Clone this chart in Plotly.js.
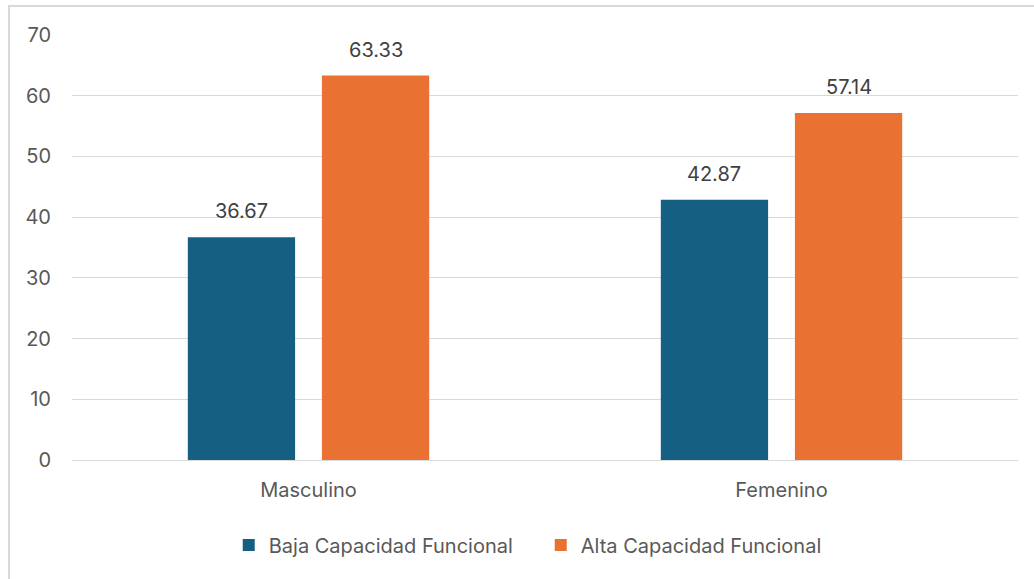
<!DOCTYPE html>
<html>
<head>
<meta charset="utf-8">
<script src="https://cdn.plot.ly/plotly-3.0.1.min.js"></script>
<style>
  html, body { margin: 0; padding: 0; background: #fff; overflow: hidden; }
  #chart { position: absolute; left: 0; top: 0; width: 1034px; height: 579px; }
  #frame { position: absolute; left: 8px; top: 5px; width: 1100px; height: 700px;
           border: 2px solid #d9d9d9; pointer-events: none; box-sizing: border-box; }
</style>
</head>
<body>
<div id="chart"></div>
<div id="frame"></div>
<script>
// Porcentaje por sexo según nivel de capacidad funcional
const categories = ['Masculino', 'Femenino'];
const seriesNames = ['Baja Capacidad Funcional', 'Alta Capacidad Funcional'];
const bajaValues = [36.67, 42.87];
const altaValues = [63.33, 57.14];
const yTicks = [0, 10, 20, 30, 40, 50, 60, 70];

const fontFamily = 'Inter, "Open Sans", "Liberation Sans", sans-serif';
const textColor = '#595959';
const colors = ['#156082', '#E97132'];

const width = 1034, height = 579;
const margin = { l: 72, r: 16, t: 35, b: 119 };
const bargap = 0.433;

const seriesValues = [bajaValues, altaValues];

const data = seriesValues.map((values, i) => ({
  type: 'bar',
  name: seriesNames[i],
  x: categories,
  y: values,
  marker: { color: colors[i] },
  hoverinfo: 'x+y+name'
}));

// Value labels sit above each bar; horizontal offset is half a bar slot
const catWidthPx = (width - margin.l - margin.r) / categories.length;
const slotPx = catWidthPx * (1 - bargap) / seriesValues.length;
const annotations = [];
seriesValues.forEach((values, i) => {
  values.forEach((v, j) => {
    annotations.push({
      x: categories[j],
      y: v,
      xref: 'x', yref: 'y',
      text: v.toFixed(2),
      showarrow: false,
      xanchor: 'center',
      yanchor: 'bottom',
      xshift: (i - (seriesValues.length - 1) / 2) * slotPx,
      yshift: 12,
      font: { family: fontFamily, size: 20, color: '#404040' }
    });
  });
});

const layout = {
  width: width,
  height: height,
  margin: margin,
  paper_bgcolor: '#ffffff',
  plot_bgcolor: '#ffffff',
  barmode: 'group',
  bargap: bargap,
  bargroupgap: 0.2,
  showlegend: true,
  annotations: annotations,
  legend: {
    orientation: 'h',
    x: 0.4955, xanchor: 'center',
    y: -0.2, yanchor: 'middle',
    font: { family: fontFamily, size: 20, color: textColor },
    itemwidth: 30,
    entrywidth: 267,
    entrywidthmode: 'pixels',
    traceorder: 'normal'
  },
  xaxis: {
    type: 'category',
    showgrid: false,
    showline: true,
    linecolor: '#d9d9d9',
    linewidth: 1,
    ticks: '',
    ticklabelstandoff: 12,
    tickfont: { family: fontFamily, size: 20, color: textColor },
    fixedrange: true
  },
  yaxis: {
    range: [0, 70],
    tickvals: yTicks,
    ticktext: yTicks.map(String),
    showgrid: true,
    gridcolor: '#d9d9d9',
    gridwidth: 1,
    zeroline: false,
    showline: false,
    ticks: '',
    ticklabelstandoff: 20,
    tickfont: { family: fontFamily, size: 20, color: textColor },
    fixedrange: true
  }
};

Plotly.newPlot('chart', data, layout, { displayModeBar: false, staticPlot: true });
</script>
</body>
</html>
